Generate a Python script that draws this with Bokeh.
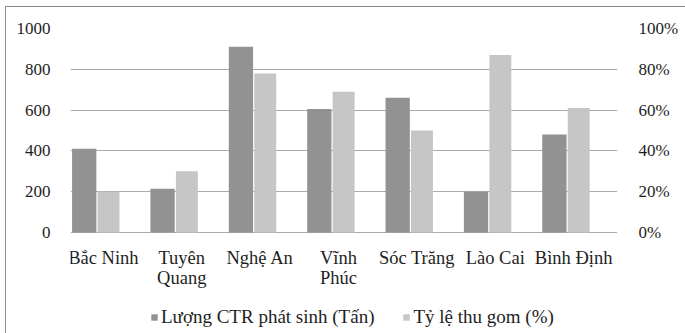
from bokeh.plotting import figure
from bokeh.models import (Range1d, LinearAxis, FixedTicker, Legend, LegendItem,
                          PrintfTickFormatter, ColumnDataSource)
from bokeh.core.properties import value
from bokeh.transform import dodge
from bokeh.embed import file_html
from bokeh.resources import INLINE

# ---- data ----
provinces = ["Bắc Ninh", "Tuyên\nQuang", "Nghệ An", "Vĩnh\nPhúc", "Sóc Trăng", "Lào Cai", "Bình Định"]
waste_tons = [410, 215, 910, 605, 660, 200, 480]          # Lượng CTR phát sinh (Tấn)
collect_pct = [20, 30, 78, 69, 50, 87, 61]                # Tỷ lệ thu gom (%)
left_ticks = [0, 200, 400, 600, 800, 1000]
right_ticks = [0, 20, 40, 60, 80, 100]
series_names = ["Lượng CTR phát sinh (Tấn)", "Tỷ lệ thu gom (%)"]

DARK = "#929292"
LIGHT = "#c6c6c6"
FONT = "Liberation Serif"
FS = "17px"
FS_CAT = "18.5px"
FS_LEG = "19px"
TXT = "#1e1e1e"

idx = list(range(len(provinces)))
src = ColumnDataSource(dict(x=idx, w=waste_tons, c=collect_pct, name=provinces))

# frame extends to the bottom of the canvas; category labels + legend live inside it
p = figure(width=679, height=326, output_backend="svg", toolbar_location=None,
           x_range=Range1d(-0.42, 6.56), y_range=Range1d(-495, 1000),
           min_border_left=64, min_border_right=68, min_border_top=21, min_border_bottom=0)
p.extra_y_ranges = {"pct": Range1d(-49.5, 100)}
p.styles = {"margin-left": "6px", "margin-top": "7px", "outline": "1px solid #8c8c8c"}

p.outline_line_color = None
p.background_fill_color = "white"
p.border_fill_color = "white"

r1 = p.vbar(x=dodge("x", -0.245, range=p.x_range), top="w", width=0.31, source=src,
            fill_color=DARK, line_color=None)
r2 = p.vbar(x=dodge("x", 0.065, range=p.x_range), top="c", width=0.28, source=src,
            fill_color=LIGHT, line_color=None, y_range_name="pct")

# category labels
p.text(x="x", y=-76, text="name", source=src, text_font=value(FONT),
       text_font_size=FS_CAT, text_color=TXT, text_align="center", text_baseline="top",
       text_line_height=1.0)

# axes
p.xaxis.visible = False
p.xgrid.visible = False
p.ygrid.ticker = FixedTicker(ticks=left_ticks)
p.ygrid.grid_line_color = "#ababab"
p.ygrid.grid_line_width = 1.2

ya = p.yaxis[0]
ya.ticker = FixedTicker(ticks=left_ticks)
ya.major_label_standoff = 14
ra = LinearAxis(y_range_name="pct", ticker=FixedTicker(ticks=right_ticks),
                formatter=PrintfTickFormatter(format="%d%%"))
ra.major_label_standoff = 15
p.add_layout(ra, "right")
for ax in [ya, ra]:
    ax.axis_line_color = None
    ax.major_tick_line_color = None
    ax.minor_tick_line_color = None
    ax.major_label_text_font = FONT
    ax.major_label_text_font_size = FS
    ax.major_label_text_color = TXT

legend = Legend(items=[LegendItem(label=series_names[0], renderers=[r1]),
                       LegendItem(label=series_names[1], renderers=[r2])],
                orientation="horizontal", location=(80, 5),
                label_text_font=FONT, label_text_font_size=FS_LEG, label_text_color=TXT,
                glyph_width=8, glyph_height=8, label_height=20, label_standoff=3, spacing=28,
                padding=0, margin=0, border_line_color=None, background_fill_alpha=0)
p.add_layout(legend, "center")

open("out.html", "w").write(file_html(p, INLINE))
